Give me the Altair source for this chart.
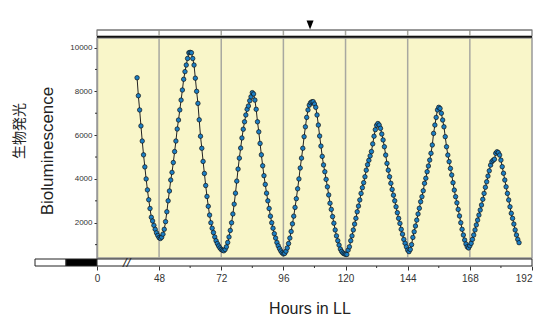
import altair as alt
import pandas as pd

# ---------------- data ----------------
start_hour = 39.5
step_hours = 0.5
biolum = [
    # 39.5 .. 48.5
    8620, 7800, 7150, 6420, 5730, 5100, 4550, 4000, 3500, 3050, 2650, 2250, 2080, 1880, 1700, 1540, 1420, 1320, 1280,
    # 49 .. 60
    1340, 1480, 1700, 2050, 2500, 3000, 3450, 3950, 4300, 4750, 5250, 5730, 6280, 6690, 7150, 7600, 8060, 8550, 8900, 9200, 9500, 9760, 9780,
    # 60.5 .. 73
    9760, 9500, 9200, 8600, 8000, 7450, 6700, 5950, 5400, 4800, 4250, 3700, 3200, 2750, 2350, 2000, 1750, 1550, 1350, 1180, 1050, 940, 850, 780, 740, 720,
    # 73.5 .. 84
    780, 900, 1100, 1350, 1650, 2000, 2400, 2850, 3350, 3900, 4450, 4950, 5410, 5870, 6270, 6610, 6920, 7180, 7330, 7570, 7750, 7940,
    # 84.5 .. 96
    7880, 7600, 7180, 6610, 6150, 5620, 5100, 4600, 4150, 3750, 3350, 3000, 2650, 2300, 2000, 1750, 1500, 1300, 1100, 950, 820, 710, 630, 580,
    # 96.5 .. 107.5
    600, 700, 850, 1050, 1300, 1600, 1950, 2300, 2700, 3100, 3550, 4000, 4500, 4950, 5400, 5930, 6380, 6810, 7150, 7370, 7480, 7520, 7530,
    # 108 .. 120.5
    7420, 7270, 6920, 6460, 5960, 5500, 5030, 4640, 4330, 3980, 3640, 3270, 2890, 2610, 2280, 1980, 1670, 1400, 1180, 980, 800, 690, 620, 580, 560, 550,
    # 121 .. 132.5
    750, 900, 1180, 1400, 1670, 1940, 2200, 2500, 2760, 3040, 3340, 3600, 3830, 4100, 4400, 4650, 4850, 5050, 5250, 5600, 5950, 6250, 6450, 6530,
    # 133 .. 144.5
    6460, 6310, 6050, 5780, 5470, 5090, 4710, 4400, 4100, 3800, 3520, 3260, 3000, 2730, 2460, 2200, 1970, 1700, 1480, 1240, 1060, 900, 750, 680,
    # 145 .. 156.5
    780, 1000, 1330, 1590, 1850, 2120, 2400, 2660, 2960, 3190, 3460, 3800, 4030, 4330, 4590, 4860, 5170, 5550, 6080, 6460, 6810, 7150, 7270, 7220,
    # 157 .. 167.5
    7000, 6690, 6380, 5930, 5470, 5090, 4790, 4480, 4180, 3830, 3490, 3190, 2910, 2610, 2310, 2000, 1700, 1440, 1210, 1030, 900, 850,
    # 168 .. 179.5
    950, 1060, 1240, 1440, 1670, 1900, 2120, 2350, 2580, 2810, 3070, 3340, 3620, 3870, 4130, 4370, 4630, 4790, 4850, 4900, 5170, 5240, 5200, 5090,
    # 180 .. 187
    4860, 4560, 4260, 3950, 3640, 3340, 3040, 2730, 2430, 2200, 1940, 1670, 1440, 1240, 1090,
]
hours = [start_hour + step_hours * i for i in range(len(biolum))]

x_tick_values = [0, 48, 72, 96, 120, 144, 168, 192]
x_minor_ticks = [60, 84, 108, 132, 156, 180]
grid_hours = [48, 72, 96, 120, 144, 168]
y_tick_values = [2000, 4000, 6000, 8000, 10000]
y_minor_ticks = [1000, 3000, 5000, 7000, 9000]
marker_hours = [106.3]
ld_start = [-24, -12, 0]
ld_end = [-12, 0, 192]
ld_fill = ["white", "black", "white"]
break_hour = [34.5]

FONT = "Liberation Sans"

x_scale = alt.Scale(domain=[-24, 0, 36, 192], range=[-62, 0, 31, 435], nice=False, zero=False)
y_scale = alt.Scale(domain=[390, 10435], nice=False, zero=False)

df = pd.DataFrame({"h": hours, "v": biolum})

span = pd.DataFrame({"a": [0], "b": [192]})

# top white bar (outlined) and the heavy black line beneath it
top_bar = alt.Chart(span).mark_rect(
    fill="white", stroke="#777777", strokeWidth=1.2, opacity=1
).encode(
    x=alt.X("a:Q", scale=x_scale), x2="b:Q",
    y=alt.value(-8), y2=alt.value(-2),
)
top_edge = alt.Chart(span).mark_rule(color="#777777", strokeWidth=1.2).encode(
    x=alt.X("a:Q", scale=x_scale), x2="b:Q", y=alt.value(-8)
)
top_line = alt.Chart(span).mark_rule(
    color="#111111", strokeWidth=1.8
).encode(x=alt.X("a:Q", scale=x_scale), x2="b:Q", y=alt.value(-1.2))

grid = alt.Chart(pd.DataFrame({"g": grid_hours})).mark_rule(
    color="#a8a8a0", strokeWidth=1.5
).encode(x=alt.X("g:Q", scale=x_scale), y=alt.value(-8), y2=alt.value(220))

marker = alt.Chart(pd.DataFrame({"m": marker_hours})).mark_point(
    shape="M-1,-1.3L1,-1.3L0,1.3Z", filled=True, color="black", size=49, opacity=1
).encode(x=alt.X("m:Q", scale=x_scale), y=alt.value(-13))

ld = alt.Chart(pd.DataFrame({"s": ld_start, "e": ld_end, "f": ld_fill})).mark_rect(
    stroke="#222222", strokeWidth=1
).encode(
    x=alt.X("s:Q", scale=x_scale), x2="e:Q",
    y=alt.value(221), y2=alt.value(228),
    fill=alt.Fill("f:N", scale=None),
)

brk = alt.Chart(pd.DataFrame({"b": break_hour, "t": ["//"]})).mark_text(
    font=FONT, fontSize=13, fontStyle="italic", color="#222222", align="center", baseline="middle"
).encode(x=alt.X("b:Q", scale=x_scale), y=alt.value(224.5), text="t:N")

x_minor = alt.Chart(pd.DataFrame({"t": x_minor_ticks})).mark_rule(
    color="#333333", strokeWidth=1
).encode(x=alt.X("t:Q", scale=x_scale), y=alt.value(228), y2=alt.value(230))

y_minor = alt.Chart(pd.DataFrame({"t": y_minor_ticks})).mark_rule(
    color="#333333", strokeWidth=1
).encode(y=alt.Y("t:Q", scale=y_scale), x=alt.value(-2), x2=alt.value(0))

line = alt.Chart(df).mark_line(color="#222222", strokeWidth=1).encode(
    x=alt.X("h:Q", scale=x_scale,
            axis=alt.Axis(values=x_tick_values, title=None, grid=False, domain=False, offset=8,
                          tickSize=4, tickColor="#333333", labelFont=FONT, labelFontSize=10,
                          labelColor="#333333", labelPadding=3, format="d")),
    y=alt.Y("v:Q", scale=y_scale,
            axis=alt.Axis(values=y_tick_values, title=None, grid=False, domain=True, format="d",
                          domainColor="#999999", domainWidth=1.5, tickSize=3, tickColor="#333333",
                          labelFont=FONT, labelFontSize=8, labelColor="#333333", labelPadding=2)),
)
points = alt.Chart(df).mark_circle(
    size=20, color="#1b7fc4", stroke="#111111", strokeWidth=0.7, opacity=1
).encode(x=alt.X("h:Q", scale=x_scale), y=alt.Y("v:Q", scale=y_scale))

title_en = alt.Chart(pd.DataFrame({"t": ["Bioluminescence"]})).mark_text(
    font=FONT, fontSize=17, angle=270, align="center", baseline="alphabetic", color="#222222"
).encode(text="t:N", x=alt.value(-44), y=alt.value(113))

title_jp = alt.Chart(pd.DataFrame({"t": ["生物発光"]})).mark_text(
    font="Noto Sans CJK JP", fontSize=14, angle=270, align="center", baseline="middle", color="#222222"
).encode(text="t:N", x=alt.value(-77), y=alt.value(93))

title_x = alt.Chart(pd.DataFrame({"t": ["Hours in LL"]})).mark_text(
    font=FONT, fontSize=16, align="center", baseline="middle", color="#222222"
).encode(text="t:N", x=alt.value(213), y=alt.value(271))

chart = alt.layer(
    top_bar, grid, top_edge, top_line, marker, ld, brk, x_minor, y_minor, line, points,
    title_en, title_jp, title_x,
).properties(
    width=435, height=220,
    autosize=alt.AutoSizeParams(type="none"),
    padding={"left": 89, "top": 30, "right": 3, "bottom": 70},
    background="white",
).configure_view(
    fill="#f9f6c9", stroke="#999999", strokeWidth=1.5
)

chart.save("out.html", embed_options={"renderer": "svg", "actions": False})
